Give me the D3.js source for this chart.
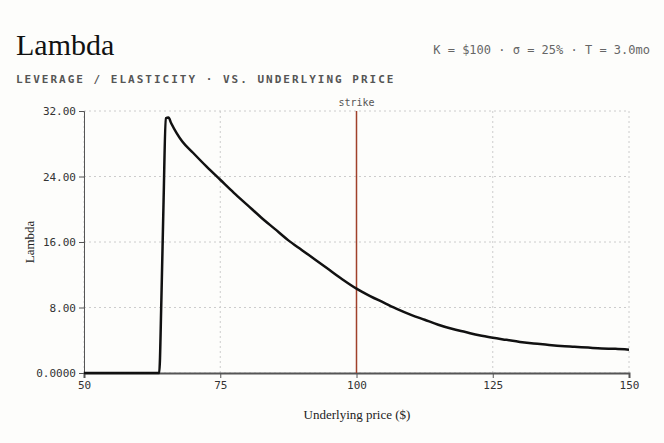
<!DOCTYPE html><html><head><meta charset="utf-8">
<script src="https://cdn.jsdelivr.net/npm/d3@7"></script>
<style>body{margin:0;background:#fdfdfb}</style></head><body>
<svg id="c" width="664" height="443"></svg>
<script>
const prices=[50,55,60,63,63.8,64.2,64.6,65,65.5,66,67,68,70,72.5,75,77.5,80,82.5,85,87.5,90,92.5,95,97.5,100,102.5,105,107.5,110,112.5,115,117.5,120,122.5,125,127.5,130,132.5,135,137.5,140,142.5,145,147.5,150];
const lambda=[0,0,0,0,0,9,21,31.1,31.2,30.5,29.3,28.3,26.9,25.2,23.6,22,20.5,19,17.6,16.2,15,13.8,12.6,11.4,10.3,9.4,8.6,7.8,7.1,6.5,5.9,5.4,5,4.6,4.3,4.05,3.8,3.6,3.45,3.3,3.2,3.1,3.0,2.95,2.85];
const xTicks=[50,75,100,125,150], yTicks=[0,8,16,24,32];
const strike=100;
const svg=d3.select("#c");
const m={l:84,r:629,t:111,b:373};
const x=d3.scaleLinear().domain([50,150]).range([m.l,m.r]);
const y=d3.scaleLinear().domain([0,32]).range([m.b,m.t]);
const mono="'DejaVu Sans Mono',monospace";
svg.append("text").attr("x",16).attr("y",55).text("Lambda").attr("font-family","'Liberation Serif',serif").attr("font-size",30).attr("fill","#111");
svg.append("text").attr("x",650).attr("y",54).attr("text-anchor","end").text("K = $100 · σ = 25% · T = 3.0mo").attr("font-family",mono).attr("font-size",12).attr("fill","#666");
svg.append("text").attr("x",16).attr("y",83).text("LEVERAGE / ELASTICITY · VS. UNDERLYING PRICE").attr("font-family",mono).attr("font-size",11).attr("letter-spacing",2).attr("font-weight","bold").attr("fill","#555");
const g=svg.append("g");
g.selectAll(".gx").data(xTicks).join("line").attr("x1",d=>x(d)).attr("x2",d=>x(d)).attr("y1",m.t).attr("y2",m.b).attr("stroke","#ccc").attr("stroke-dasharray","2,3");
g.selectAll(".gy").data(yTicks).join("line").attr("x1",m.l).attr("x2",m.r).attr("y1",d=>y(d)).attr("y2",d=>y(d)).attr("stroke","#ccc").attr("stroke-dasharray","2,3");
const xa=svg.append("g").attr("transform",`translate(0,${m.b})`).call(d3.axisBottom(x).tickValues(xTicks).tickSize(5));
const ya=svg.append("g").attr("transform",`translate(${m.l},0)`).call(d3.axisLeft(y).tickValues(yTicks).tickSize(5).tickFormat(d=>d===0?"0.0000":d3.format(".2f")(d)));
[xa,ya].forEach(a=>{a.selectAll("text").attr("font-family",mono).attr("font-size",11).attr("fill","#333");a.selectAll("path,line").attr("stroke","#555");});
xa.select(".domain").attr("stroke-width",2);
svg.append("line").attr("x1",x(strike)).attr("x2",x(strike)).attr("y1",m.t).attr("y2",m.b).attr("stroke","#a0402a").attr("stroke-width",1.5);
svg.append("text").attr("x",x(strike)).attr("y",106).attr("text-anchor","middle").text("strike").attr("font-family",mono).attr("font-size",10).attr("fill","#555");
svg.append("path").datum(prices.map((p,i)=>[p,lambda[i]])).attr("fill","none").attr("stroke","#111").attr("stroke-width",2.5)
 .attr("d",d3.line().x(d=>x(d[0])).y(d=>y(d[1])).curve(d3.curveMonotoneX));
svg.append("text").attr("x",357).attr("y",419).attr("text-anchor","middle").text("Underlying price ($)").attr("font-family","'Liberation Serif',serif").attr("font-size",13).attr("fill","#222");
svg.append("text").attr("transform","translate(34,242) rotate(-90)").attr("text-anchor","middle").text("Lambda").attr("font-family","'Liberation Serif',serif").attr("font-size",13).attr("fill","#222");
</script></body></html>
